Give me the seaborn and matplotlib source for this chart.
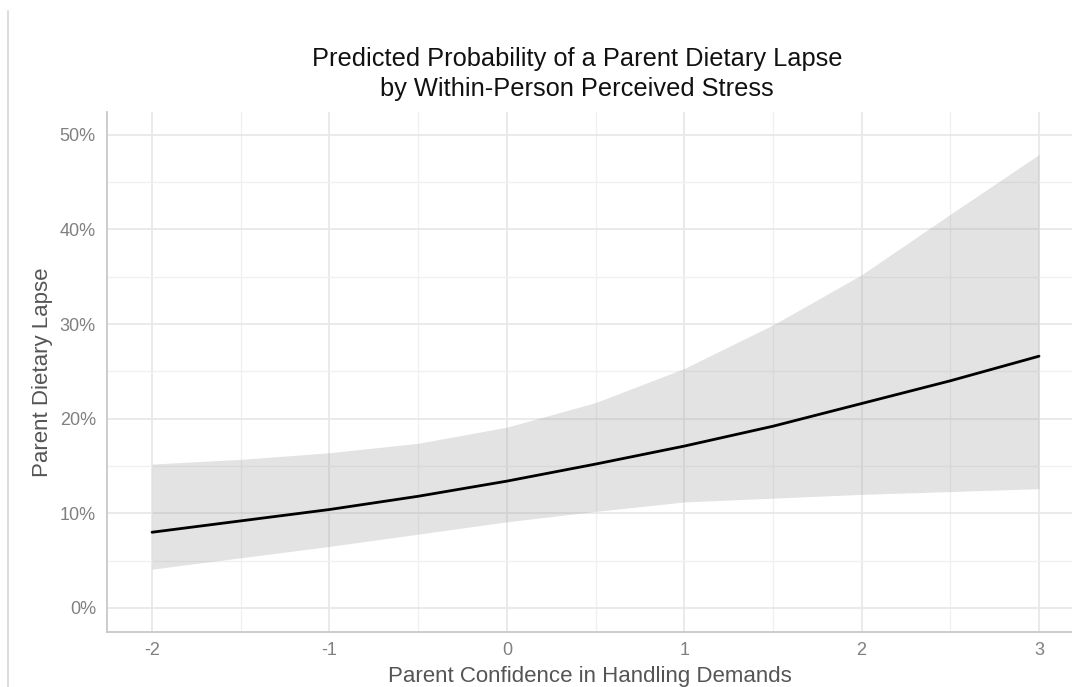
import numpy as np
import pandas as pd
import matplotlib
matplotlib.use("Agg")
import matplotlib.pyplot as plt
import seaborn as sns
from matplotlib.lines import Line2D
from matplotlib.ticker import FuncFormatter, MultipleLocator

# Data
confidence = [-2.0, -1.5, -1.0, -0.5, 0.0, 0.5, 1.0, 1.5, 2.0, 2.5, 3.0]
predicted = [0.080, 0.092, 0.104, 0.118, 0.134, 0.152, 0.171, 0.192, 0.216, 0.240, 0.266]
ci_upper = [0.152, 0.157, 0.164, 0.174, 0.191, 0.217, 0.253, 0.299, 0.352, 0.416, 0.479]
ci_lower = [0.041, 0.053, 0.065, 0.078, 0.091, 0.102, 0.112, 0.116, 0.120, 0.123, 0.126]
x_ticks = [-2, -1, 0, 1, 2, 3]
y_ticks = [0.0, 0.1, 0.2, 0.3, 0.4, 0.5]

df = pd.DataFrame({"x": confidence, "y": predicted, "lo": ci_lower, "hi": ci_upper})

sns.set_theme(style="white")
plt.rcParams["font.family"] = ["Liberation Sans", "DejaVu Sans"]

W, H = 1072, 687
fig = plt.figure(figsize=(W / 100, H / 100), dpi=100)
left, right, top, bottom = 107, 1072, 112, 632
ax = fig.add_axes([left / W, (H - bottom) / H, (right - left) / W, (bottom - top) / H])

# grid
ax.set_axisbelow(True)
ax.xaxis.set_minor_locator(MultipleLocator(0.5))
ax.yaxis.set_minor_locator(MultipleLocator(0.05))
ax.grid(which="major", color="#e8e8e8", linewidth=1.3)
ax.grid(which="minor", color="#f0f0f0", linewidth=1.0)

ax.fill_between(df["x"], df["lo"], df["hi"], color="#999999", alpha=0.27, linewidth=0, zorder=2)
sns.lineplot(data=df, x="x", y="y", ax=ax, color="black", linewidth=2.0, zorder=3)

ax.set_xlim(-2.254, 3.186)
ax.set_ylim(-0.0254, 0.524)
ax.set_xticks(x_ticks)
ax.set_yticks(y_ticks)
ax.xaxis.set_major_formatter(FuncFormatter(lambda v, p: f"{int(v)}"))
ax.yaxis.set_major_formatter(FuncFormatter(lambda v, p: f"{v*100:.0f}%"))
ax.tick_params(axis="both", which="both", length=0, labelsize=13, labelcolor="#808080")
ax.tick_params(axis="y", pad=8)
ax.tick_params(axis="x", pad=7)

for s in ["top", "right"]:
    ax.spines[s].set_visible(False)
for s in ["left", "bottom"]:
    ax.spines[s].set_color("#c8c8c8")
    ax.spines[s].set_linewidth(1.3)

ax.set_xlabel("Parent Confidence in Handling Demands", fontsize=16, color="#555555", labelpad=5)
ax.set_ylabel("Parent Dietary Lapse", fontsize=16, color="#555555", labelpad=5)

fig.text(577 / W, 1 - 74 / H, "Predicted Probability of a Parent Dietary Lapse\nby Within-Person Perceived Stress",
         ha="center", va="center", fontsize=18.3, color="#111111", linespacing=1.3)

fig.add_artist(Line2D([8 / W, 8 / W], [0, 1 - 11 / H], transform=fig.transFigure, color="#dddddd", linewidth=1.5))

fig.savefig("out.png", dpi=100)
